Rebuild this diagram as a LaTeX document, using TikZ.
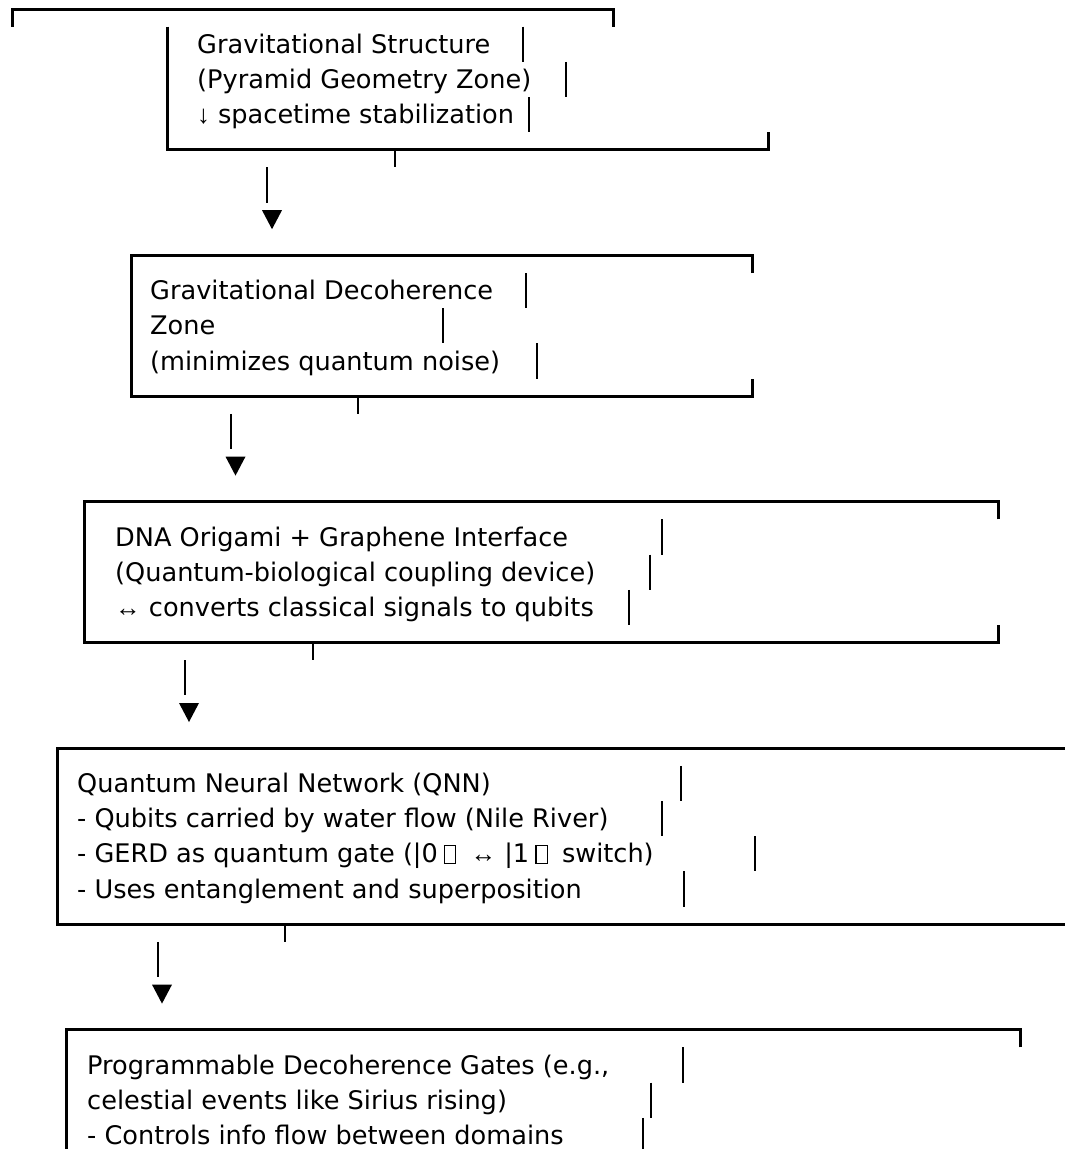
\documentclass[tikz,border=0pt]{standalone}
\usepackage{fontspec}
\setmainfont{DejaVu Sans}
\newfontfamily\symf{Liberation Sans}
\newcommand\cy[1]{9+35.2*#1}
\newcommand\arw[1]{{\symf #1}}
\newcommand\tofu{\hspace{6pt}{\setlength\fboxsep{0pt}\setlength\fboxrule{1.3pt}\fbox{\rule{0pt}{17pt}\hspace{10pt}}}\hspace{6pt}}
\tikzset{
  txt/.style={anchor=base west, inner sep=0pt, font=\fontsize{25.6}{30}\selectfont},
  rule/.style={line width=3pt, line join=miter, line cap=butt},
  tick/.style={line width=2.6pt, line cap=butt},
}
\newcommand\vbar[3]{\coordinate (#1a) at (#2,{\cy{#3}-17.6});\coordinate (#1b) at (#2,{\cy{#3}+17.6});\draw[tick] (#1a) -- (#1b);}
\newcommand\tri[3]{\coordinate (#1) at (#2,{\cy{#3}});\fill ([shift={(-10,-10)}]#1) -- ([shift={(10,-10)}]#1) -- ([shift={(0,9)}]#1) -- cycle;}
\begin{document}
\begin{tikzpicture}[x=1pt,y=-1pt]
\useasboundingbox (0,0) rectangle (1065,1149);
% ---------- top rule ----------
\draw[rule] (12,{\cy{0}+17.6}) -- (12,{\cy{0}}) -- (613,{\cy{0}}) -- (613,{\cy{0}+17.6});
% ---------- box 1 ----------
\draw[rule] (167,{\cy{1}-17.6}) -- (167,{\cy{4}}) -- (768,{\cy{4}}) -- (768,{\cy{4}-17.6});
\node[txt] (t11) at (197,{\cy{1}+9}) {Gravitational Structure};
\node[txt] (t12) at (197,{\cy{2}+9}) {(Pyramid Geometry Zone)};
\node[txt] (t13) at (197,{\cy{3}+9}) {\arw{↓} spacetime stabilization};
\vbar{b11}{523}{1}\vbar{b12}{566}{2}\vbar{b13}{529}{3}
\coordinate (s1a) at (395,{\cy{4}}); \coordinate (s1b) at (395,{\cy{4}+17.6});
\draw[tick] (s1a) -- (s1b);
\coordinate (a1a) at (267,{\cy{5}-17.6}); \coordinate (a1b) at (267,{\cy{5}+17.6});
\draw[tick] (a1a) -- (a1b);
\tri{h1}{272}{6}
% ---------- box 2 ----------
\draw[rule] (752,{\cy{7}+17.6}) -- (752,{\cy{7}}) -- (131,{\cy{7}}) -- (131,{\cy{11}}) -- (752,{\cy{11}}) -- (752,{\cy{11}-17.6});
\node[txt] (t21) at (150,{\cy{8}+9}) {Gravitational Decoherence};
\node[txt] (t22) at (150,{\cy{9}+9}) {Zone};
\node[txt] (t23) at (150,{\cy{10}+9}) {(minimizes quantum noise)};
\vbar{b21}{526}{8}\vbar{b22}{443}{9}\vbar{b23}{537}{10}
\coordinate (s2a) at (358,{\cy{11}}); \coordinate (s2b) at (358,{\cy{11}+17.6});
\draw[tick] (s2a) -- (s2b);
\coordinate (a2a) at (231,{\cy{12}-17.6}); \coordinate (a2b) at (231,{\cy{12}+17.6});
\draw[tick] (a2a) -- (a2b);
\tri{h2}{235.5}{13}
% ---------- box 3 ----------
\draw[rule] (998,{\cy{14}+17.6}) -- (998,{\cy{14}}) -- (84,{\cy{14}}) -- (84,{\cy{18}}) -- (998,{\cy{18}}) -- (998,{\cy{18}-17.6});
\node[txt] (t31) at (115,{\cy{15}+9}) {DNA Origami + Graphene Interface};
\node[txt] (t32) at (115,{\cy{16}+9}) {(Quantum-biological coupling device)};
\node[txt] (t33) at (115,{\cy{17}+9}) {\arw{↔} converts classical signals to qubits};
\vbar{b31}{662}{15}\vbar{b32}{650}{16}\vbar{b33}{629}{17}
\coordinate (s3a) at (313,{\cy{18}}); \coordinate (s3b) at (313,{\cy{18}+17.6});
\draw[tick] (s3a) -- (s3b);
\coordinate (a3a) at (185,{\cy{19}-17.6}); \coordinate (a3b) at (185,{\cy{19}+17.6});
\draw[tick] (a3a) -- (a3b);
\tri{h3}{189}{20}
% ---------- box 4 ----------
\draw[rule] (1070,{\cy{21}}) -- (57,{\cy{21}}) -- (57,{\cy{26}}) -- (1070,{\cy{26}});
\node[txt] (t41) at (77,{\cy{22}+9}) {Quantum Neural Network (QNN)};
\node[txt] (t42) at (77,{\cy{23}+9}) {- Qubits carried by water flow (Nile River)};
\node[txt] (t43) at (77,{\cy{24}+9}) {- GERD as quantum gate (|0\tofu{} \arw{↔} |1\tofu{} switch)};
\node[txt] (t44) at (77,{\cy{25}+9}) {- Uses entanglement and superposition};
\vbar{b41}{681}{22}\vbar{b42}{662}{23}\vbar{b43}{755}{24}\vbar{b44}{684}{25}
\coordinate (s4a) at (285,{\cy{26}}); \coordinate (s4b) at (285,{\cy{26}+17.6});
\draw[tick] (s4a) -- (s4b);
\coordinate (a4a) at (158,{\cy{27}-17.6}); \coordinate (a4b) at (158,{\cy{27}+17.6});
\draw[tick] (a4a) -- (a4b);
\tri{h4}{162}{28}
% ---------- box 5 ----------
\draw[rule] (1020,{\cy{29}+17.6}) -- (1020,{\cy{29}}) -- (66,{\cy{29}}) -- (66,1160);
\node[txt] (t51) at (87,{\cy{30}+9}) {Programmable Decoherence Gates (e.g.,};
\node[txt] (t52) at (87,{\cy{31}+9}) {celestial events like Sirius rising)};
\node[txt] (t53) at (87,{\cy{32}+9}) {- Controls info flow between domains};
\vbar{b51}{683}{30}\vbar{b52}{651}{31}\vbar{b53}{643}{32}
\end{tikzpicture}
\end{document}
